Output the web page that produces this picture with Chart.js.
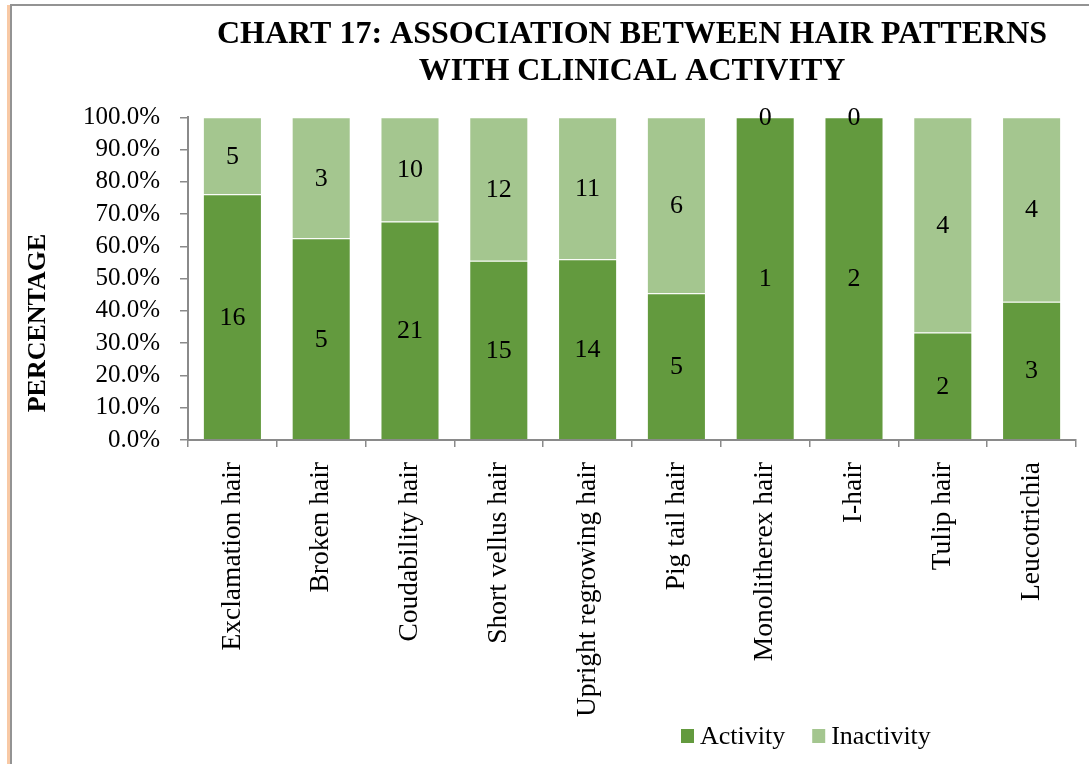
<!DOCTYPE html>
<html>
<head>
<meta charset="utf-8">
<script src="https://cdn.jsdelivr.net/npm/chart.js@4.4.1/dist/chart.umd.min.js"></script>
<style>
  html, body { margin: 0; padding: 0; background: #ffffff; }
  #wrap { width: 1089px; height: 764px; position: relative; }
</style>
</head>
<body>
<div id="wrap"><canvas id="chart" width="1089" height="764"></canvas></div>
<script>
// Hair pattern categories
const categories = [
  'Exclamation hair', 'Broken hair', 'Coudability hair', 'Short vellus hair',
  'Upright regrowing hair', 'Pig tail hair', 'Monolitherex hair', 'I-hair',
  'Tulip hair', 'Leucotrichia'
];
// Case counts per pattern
const activityCounts   = [16, 5, 21, 15, 14, 5, 1, 2, 2, 3];
const inactivityCounts = [5, 3, 10, 12, 11, 6, 0, 0, 4, 4];
// Y axis tick values (fraction of 100%)
const yTicks = [0, 0.1, 0.2, 0.3, 0.4, 0.5, 0.6, 0.7, 0.8, 0.9, 1.0];

const seriesNames  = ['Activity', 'Inactivity'];
const seriesColors = ['#639a3e', '#a4c68f'];
const seriesCounts = [activityCounts, inactivityCounts];

// Each bar is stacked to 100%: share of the pattern's total cases
const totals = categories.map((_, i) => activityCounts[i] + inactivityCounts[i]);
const share = counts => counts.map((c, i) => c / totals[i]);

const SERIF = '"Liberation Serif", "Times New Roman", serif';
const AXIS_GRAY = '#8a8a8a';

// Page frame: peach rule with a grey rule beside it, grey rule on top
const framePlugin = {
  id: 'frame',
  beforeDraw(chart) {
    const ctx = chart.ctx;
    ctx.save();
    ctx.fillStyle = '#ffffff';
    ctx.fillRect(0, 0, chart.width, chart.height);
    ctx.fillStyle = '#f8c9a5';
    ctx.fillRect(7, 5, 3, chart.height - 5);
    ctx.fillStyle = '#939393';
    ctx.fillRect(10, 4, 2, chart.height - 4);
    ctx.fillRect(10, 4, chart.width - 10, 2);
    ctx.restore();
  }
};

// Vertical axis title
const yTitlePlugin = {
  id: 'yTitle',
  afterDraw(chart) {
    const ctx = chart.ctx;
    ctx.save();
    ctx.translate(38, 323);
    ctx.rotate(-Math.PI / 2);
    ctx.font = 'bold 26px ' + SERIF;
    ctx.fillStyle = '#000000';
    ctx.textAlign = 'center';
    ctx.textBaseline = 'middle';
    ctx.fillText('PERCENTAGE', 0, 0);
    ctx.restore();
  }
};

// Case counts written in the middle of each stacked segment
const countLabelPlugin = {
  id: 'countLabels',
  afterDatasetsDraw(chart) {
    const ctx = chart.ctx;
    ctx.save();
    ctx.font = '26px ' + SERIF;
    ctx.fillStyle = '#000000';
    ctx.textAlign = 'center';
    ctx.textBaseline = 'middle';
    chart.data.datasets.forEach((ds, di) => {
      const meta = chart.getDatasetMeta(di);
      meta.data.forEach((bar, i) => {
        const y = (bar.y + bar.base) / 2;
        ctx.fillText(String(seriesCounts[di][i]), bar.x, y + 1);
      });
    });
    ctx.restore();
  }
};

// Legend below the axis labels
const legendPlugin = {
  id: 'bottomLegend',
  afterDraw(chart) {
    const ctx = chart.ctx;
    ctx.save();
    ctx.font = '26px ' + SERIF;
    ctx.textBaseline = 'middle';
    ctx.textAlign = 'left';
    let x = 681;
    const yc = 737;
    chart.data.datasets.forEach((ds) => {
      ctx.fillStyle = ds.backgroundColor;
      ctx.fillRect(x, yc - 8, 13, 14);
      ctx.fillStyle = '#000000';
      ctx.fillText(ds.label, x + 19, yc);
      x += 19 + ctx.measureText(ds.label).width + 27;
    });
    ctx.restore();
  }
};

new Chart(document.getElementById('chart'), {
  type: 'bar',
  data: {
    labels: categories,
    datasets: seriesNames.map((name, k) => ({
      label: name,
      data: share(seriesCounts[k]),
      backgroundColor: seriesColors[k],
      borderColor: 'rgba(255,255,255,0.35)',
      borderWidth: 1,
      categoryPercentage: 1.0,
      barPercentage: 0.665
    }))
  },
  options: {
    responsive: false,
    animation: false,
    devicePixelRatio: 1,
    layout: { padding: { top: 0, right: 13, bottom: 0, left: 0 } },
    plugins: {
      legend: { display: false },
      tooltip: { enabled: false },
      title: {
        display: true,
        fullSize: false,
        text: ['CHART 17: ASSOCIATION BETWEEN HAIR PATTERNS', 'WITH CLINICAL ACTIVITY'],
        color: '#000000',
        font: { family: SERIF, size: 32, weight: 'bold', lineHeight: 1.13 },
        padding: { top: 17, bottom: 28 }
      }
    },
    scales: {
      x: {
        stacked: true,
        grid: {
          display: true,
          offset: true,
          drawOnChartArea: false,
          drawTicks: true,
          tickLength: 7,
          color: AXIS_GRAY,
          lineWidth: 1.5
        },
        border: { display: true, color: AXIS_GRAY, width: 2 },
        ticks: {
          autoSkip: false,
          maxRotation: 90,
          minRotation: 90,
          padding: 15,
          color: '#000000',
          font: { family: SERIF, size: 27.5 }
        },
        afterFit(scale) { scale.height = 324; }
      },
      y: {
        stacked: true,
        min: 0,
        max: 1,
        afterBuildTicks(scale) { scale.ticks = yTicks.map(v => ({ value: v })); },
        grid: {
          display: true,
          drawOnChartArea: false,
          drawTicks: true,
          tickLength: 8,
          color: AXIS_GRAY,
          lineWidth: 1.5
        },
        border: { display: true, color: AXIS_GRAY, width: 2 },
        ticks: {
          autoSkip: false,
          padding: 20,
          color: '#000000',
          font: { family: SERIF, size: 25 },
          callback: v => (v * 100).toFixed(1) + '%'
        },
        afterFit(scale) { scale.width = 188; }
      }
    }
  },
  plugins: [framePlugin, countLabelPlugin, yTitlePlugin, legendPlugin]
});
</script>
</body>
</html>
